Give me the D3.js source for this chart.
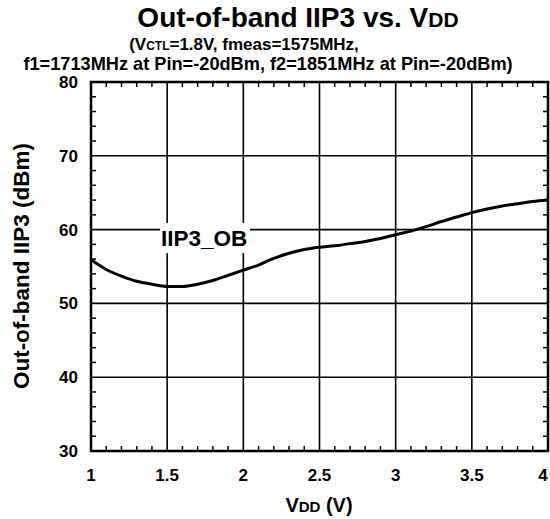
<!DOCTYPE html>
<html>
<head>
<meta charset="utf-8">
<script src="https://cdn.jsdelivr.net/npm/d3@7"></script>
<style>
  body { margin: 0; background: #fff; }
  svg text { font-family: "Liberation Sans", Arial, sans-serif; font-weight: bold; fill: #000; }
</style>
</head>
<body>
<svg width="550" height="519"></svg>
<script>
var vdd  = [1.0, 1.1, 1.2, 1.3, 1.4, 1.5, 1.6, 1.7, 1.8, 1.9, 2.0,
            2.1, 2.2, 2.3, 2.4, 2.5, 2.6, 2.7, 2.8, 2.9, 3.0,
            3.1, 3.2, 3.3, 3.4, 3.5, 3.6, 3.7, 3.8, 3.9, 4.0];
var iip3 = [55.9, 54.6, 53.7, 53.0, 52.6, 52.3, 52.3, 52.6, 53.1, 53.8, 54.5,
            55.2, 56.1, 56.8, 57.3, 57.6, 57.8, 58.1, 58.4, 58.8, 59.3,
            59.8, 60.4, 61.1, 61.7, 62.3, 62.8, 63.2, 63.5, 63.8, 64.0];
var xTicks = [1, 1.5, 2, 2.5, 3, 3.5, 4];
var xTickLabels = ["1", "1.5", "2", "2.5", "3", "3.5", "4"];
var yTicks = [30, 40, 50, 60, 70, 80];
var yTickLabels = ["30", "40", "50", "60", "70", "80"];

var svg = d3.select("svg");
var pl = 91, pr = 548, pt = 82, pb = 451;

var x = d3.scaleLinear().domain([1, 4]).range([pl, pr]);
var y = d3.scaleLinear().domain([30, 80]).range([pb, pt]);

// grid
var grid = svg.append("g");
grid.selectAll(".vg").data(xTicks.slice(1, -1)).enter().append("line")
    .attr("x1", function(d) { return x(d); }).attr("x2", function(d) { return x(d); })
    .attr("y1", pt).attr("y2", pb)
    .attr("stroke", "#000").attr("stroke-width", 1.6);
grid.selectAll(".hg").data(yTicks.slice(1, -1)).enter().append("line")
    .attr("x1", pl).attr("x2", pr)
    .attr("y1", function(d) { return y(d); }).attr("y2", function(d) { return y(d); })
    .attr("stroke", "#000").attr("stroke-width", 1.6);

// minor ticks, inward
var xMinor = d3.range(10, 41).map(function(v) { return v / 10; }).filter(function(v) { return Math.round(v * 10) % 5 != 0; });
var yMinor = d3.range(30, 81, 2).filter(function(v) { return v % 10 != 0; });
var ticks = svg.append("g").attr("stroke", "#000").attr("stroke-width", 1.5);
xMinor.forEach(function(v) {
  ticks.append("line").attr("x1", x(v)).attr("x2", x(v)).attr("y1", pb).attr("y2", pb - 5);
  ticks.append("line").attr("x1", x(v)).attr("x2", x(v)).attr("y1", pt).attr("y2", pt + 5);
});
yMinor.forEach(function(v) {
  ticks.append("line").attr("x1", pl).attr("x2", pl + 5).attr("y1", y(v)).attr("y2", y(v));
  ticks.append("line").attr("x1", pr).attr("x2", pr - 5).attr("y1", y(v)).attr("y2", y(v));
});

// curve
var line = d3.line()
    .x(function(d, i) { return x(vdd[i]); })
    .y(function(d) { return y(d); })
    .curve(d3.curveMonotoneX);
svg.append("path").datum(iip3)
    .attr("d", line)
    .attr("fill", "none").attr("stroke", "#000").attr("stroke-width", 3);

// label box
svg.append("rect").attr("x", 160).attr("y", 223).attr("width", 90).attr("height", 30).attr("fill", "#fff");
svg.append("text").attr("x", 161).attr("y", 246).attr("font-size", 22.5).text("IIP3_OB");

// frame
svg.append("rect").attr("x", pl).attr("y", pt).attr("width", pr - pl).attr("height", pb - pt)
    .attr("fill", "none").attr("stroke", "#000").attr("stroke-width", 2.5);

// tick labels
svg.selectAll(".xl").data(xTicks).enter().append("text")
    .attr("x", function(d) { return Math.min(x(d), 543); }).attr("y", 481)
    .attr("text-anchor", "middle").attr("font-size", 17)
    .text(function(d, i) { return xTickLabels[i]; });
svg.selectAll(".yl").data(yTicks).enter().append("text")
    .attr("x", 78).attr("y", function(d) { return y(d) + 6; })
    .attr("text-anchor", "end").attr("font-size", 17)
    .text(function(d, i) { return yTickLabels[i]; });

// titles
var t = svg.append("text").attr("x", 298).attr("y", 27).attr("text-anchor", "middle").attr("font-size", 28);
t.append("tspan").text("Out-of-band IIP3 vs. V");
t.append("tspan").attr("font-size", 21).text("DD");

var s1 = svg.append("text").attr("x", 244).attr("y", 50).attr("text-anchor", "middle").attr("font-size", 17);
s1.append("tspan").text("(V");
s1.append("tspan").attr("font-size", 12).text("CTL");
s1.append("tspan").text("=1.8V, fmeas=1575MHz,");
svg.append("text").attr("x", 268).attr("y", 70).attr("text-anchor", "middle").attr("font-size", 18.2)
    .text("f1=1713MHz at Pin=-20dBm, f2=1851MHz at Pin=-20dBm)");

var xt = svg.append("text").attr("x", 319).attr("y", 512).attr("text-anchor", "middle").attr("font-size", 20);
xt.append("tspan").text("V");
xt.append("tspan").attr("font-size", 15).text("DD");
xt.append("tspan").text(" (V)");

svg.append("text").attr("transform", "translate(29,266) rotate(-90)")
    .attr("text-anchor", "middle").attr("font-size", 22.5)
    .text("Out-of-band IIP3 (dBm)");
</script>
</body>
</html>
